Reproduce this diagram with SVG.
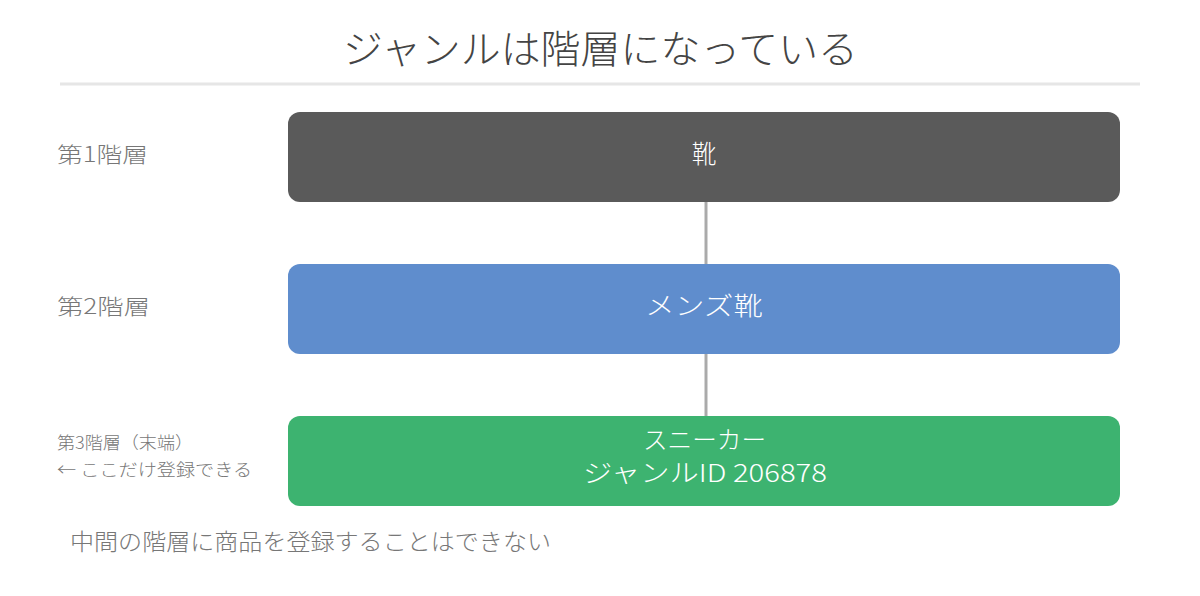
<svg xmlns="http://www.w3.org/2000/svg" width="1200" height="596" viewBox="0 0 1200 596">
<style>
text{font-family:"Noto Sans CJK JP","Noto Sans",sans-serif;font-weight:300;}
.lbl{fill:#777;font-size:21px;}
.small{fill:#777;font-size:17px;}
.box{stroke:none;}
.bt{fill:#fff;font-size:25px;text-anchor:middle;}
.conn{stroke:#aaa;stroke-width:3;}
</style>
<rect width="1200" height="596" fill="#fff"/>
<text x="343" y="63" font-size="39" fill="#444" textLength="515" lengthAdjust="spacingAndGlyphs">ジャンルは階層になっている</text>
<line x1="60" y1="84" x2="1140" y2="84" stroke="#e6e6e6" stroke-width="3"/>
<g id="connectors">
<line class="conn" x1="706" y1="202" x2="706" y2="264"/>
<line class="conn" x1="706" y1="354" x2="706" y2="416"/>
</g>
<g id="level1">
<rect class="box" x="288" y="112" width="832" height="90" rx="12" fill="#5a5a5a"/>
<text class="bt" x="704" y="163">靴</text>
</g>
<g id="level2">
<rect class="box" x="288" y="264" width="832" height="90" rx="12" fill="#5f8dcd"/>
<text class="bt" x="704" y="315" font-size="27" textLength="118" lengthAdjust="spacingAndGlyphs">メンズ靴</text>
</g>
<g id="level3">
<rect class="box" x="288" y="416" width="832" height="90" rx="12" fill="#3db370"/>
<text class="bt" x="704.5" y="449" textLength="123" lengthAdjust="spacingAndGlyphs">スニーカー</text>
<text class="bt" x="705" y="482" textLength="244" lengthAdjust="spacingAndGlyphs">ジャンルID 206878</text>
</g>
<g id="labels">
<text class="lbl" x="57" y="162" textLength="91" lengthAdjust="spacingAndGlyphs">第1階層</text>
<text class="lbl" x="57" y="314" textLength="93" lengthAdjust="spacingAndGlyphs">第2階層</text>
<text class="small" x="57" y="449" textLength="136" lengthAdjust="spacingAndGlyphs">第3階層（末端）</text>
<text class="small" x="57" y="476" textLength="195" lengthAdjust="spacingAndGlyphs">← ここだけ登録できる</text>
</g>
<text x="70" y="550" font-size="23" fill="#777" textLength="481" lengthAdjust="spacingAndGlyphs">中間の階層に商品を登録することはできない</text>
</svg>
